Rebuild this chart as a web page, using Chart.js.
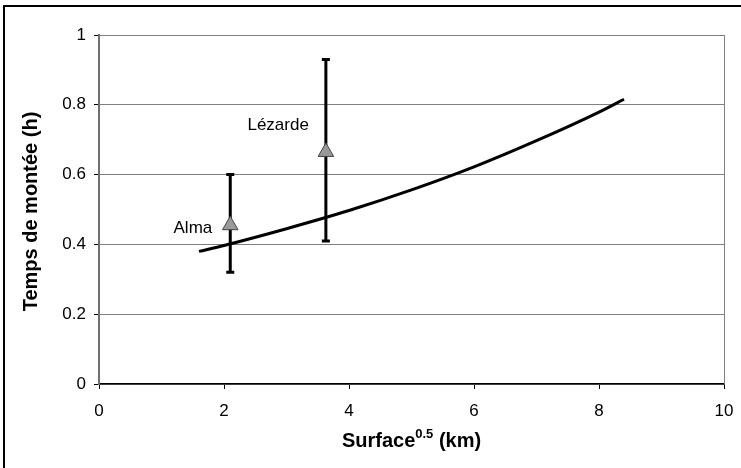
<!DOCTYPE html>
<html>
<head>
<meta charset="utf-8">
<script src="https://cdn.jsdelivr.net/npm/chart.js@4"></script>
<style>
  body { margin: 0; background: #fff; }
  canvas { display: block; }
</style>
</head>
<body>
<canvas id="chart" width="741" height="468"></canvas>
<script>
// curve
const curveX = [1.6, 2, 3, 4, 5, 6, 7, 8, 8.4];
const curveY = [0.38, 0.397, 0.445, 0.497, 0.556, 0.622, 0.697, 0.779, 0.816];

// observed catchments
const pointNames = ["Alma", "Lézarde"];
const pointX = [2.1, 3.63];
const pointY = [0.455, 0.665];
const errLow = [0.32, 0.41];
const errHigh = [0.60, 0.93];

const xTicks = [0, 2, 4, 6, 8, 10];
const yTicks = ["0", "0.2", "0.4", "0.6", "0.8", "1"];

const FONT = "'Liberation Sans', Arial, sans-serif";
Chart.defaults.font.family = FONT;
Chart.defaults.color = "#000";

const labelOffsets = [{ dx: -18, dy: 3 }, { dx: -17, dy: -27 }];

const extras = {
  id: "extras",
  beforeDatasetsDraw(chart) {
    const c = chart.ctx, xs = chart.scales.x, ys = chart.scales.y;
    c.save();
    c.strokeStyle = "#000";
    c.lineWidth = 3;
    pointX.forEach((v, i) => {
      const px = xs.getPixelForValue(v);
      const top = ys.getPixelForValue(errHigh[i]);
      const bot = ys.getPixelForValue(errLow[i]);
      c.beginPath();
      c.moveTo(px, top); c.lineTo(px, bot);
      c.moveTo(px - 4, top); c.lineTo(px + 4, top);
      c.moveTo(px - 4, bot); c.lineTo(px + 4, bot);
      c.stroke();
    });
    c.restore();
  },
  afterDraw(chart) {
    const c = chart.ctx, a = chart.chartArea, xs = chart.scales.x, ys = chart.scales.y;
    c.save();
    // right edge of plot
    c.strokeStyle = "#808080";
    c.lineWidth = 1;
    c.beginPath();
    c.moveTo(a.right + 0.5, a.top);
    c.lineTo(a.right + 0.5, a.bottom);
    c.stroke();

    // outer frame
    c.strokeStyle = "#000";
    c.lineWidth = 2;
    c.strokeRect(4, 6, 760, 480);

    // point labels
    c.fillStyle = "#000";
    c.font = "17px " + FONT;
    c.textAlign = "right";
    c.textBaseline = "middle";
    pointNames.forEach((n, i) => {
      c.fillText(n, xs.getPixelForValue(pointX[i]) + labelOffsets[i].dx,
        ys.getPixelForValue(pointY[i]) + labelOffsets[i].dy);
    });

    // y title
    c.save();
    c.translate(31, (a.top + a.bottom) / 2 + 2);
    c.rotate(-Math.PI / 2);
    c.textAlign = "center";
    c.font = "bold 20px " + FONT;
    c.fillText("Temps de montée (h)", 0, 0);
    c.restore();

    // x title with superscript
    const big = "bold 20px " + FONT, small = "bold 13px " + FONT;
    c.textAlign = "left";
    c.textBaseline = "alphabetic";
    c.font = big;
    const w1 = c.measureText("Surface").width;
    const w3 = c.measureText(" (km)").width;
    c.font = small;
    const w2 = c.measureText("0.5").width;
    let x0 = (a.left + a.right) / 2 - (w1 + w2 + w3) / 2;
    const base = 447;
    c.font = big;
    c.fillText("Surface", x0, base);
    c.font = small;
    c.fillText("0.5", x0 + w1, base - 9);
    c.font = big;
    c.fillText(" (km)", x0 + w1 + w2, base);
    c.restore();
  }
};

new Chart(document.getElementById("chart"), {
  type: "scatter",
  data: {
    datasets: [
      {
        label: "Observé",
        data: pointX.map((x, i) => ({ x: x, y: pointY[i] })),
        pointStyle: "triangle",
        pointRadius: 9,
        pointHoverRadius: 9,
        backgroundColor: "#999999",
        borderColor: "#444444",
        borderWidth: 1
      },
      {
        label: "Modèle",
        type: "line",
        data: curveX.map((x, i) => ({ x: x, y: curveY[i] })),
        borderColor: "#000",
        borderWidth: 3,
        pointRadius: 0,
        cubicInterpolationMode: "monotone",
        fill: false
      }
    ]
  },
  plugins: [extras],
  options: {
    responsive: false,
    devicePixelRatio: 1,
    animation: false,
    layout: { padding: { top: 35, right: 17, left: 0, bottom: 0 } },
    plugins: { legend: { display: false }, tooltip: { enabled: false } },
    scales: {
      x: {
        type: "linear",
        min: 0,
        max: 10,
        afterFit(s) { s.height = 84; s.paddingLeft = 0; s.paddingRight = 0; },
        afterBuildTicks(s) { s.ticks = xTicks.map(v => ({ value: v })); },
        ticks: { font: { size: 17 }, padding: 12, maxRotation: 0, callback: v => String(v) },
        grid: { drawOnChartArea: false, tickLength: 5, tickColor: "#000" },
        border: { color: "#000", width: 1.5 }
      },
      y: {
        min: 0,
        max: 1,
        afterFit(s) { s.width = 99; s.paddingTop = 0; s.paddingBottom = 0; },
        afterBuildTicks(s) { s.ticks = yTicks.map(v => ({ value: Number(v) })); },
        ticks: { font: { size: 17 }, padding: 8, callback: (v, i) => yTicks[i] },
        grid: { color: "#808080", lineWidth: 1, tickLength: 5, tickColor: "#000" },
        border: { color: "#707070", width: 2 }
      }
    }
  }
});
</script>
</body>
</html>
